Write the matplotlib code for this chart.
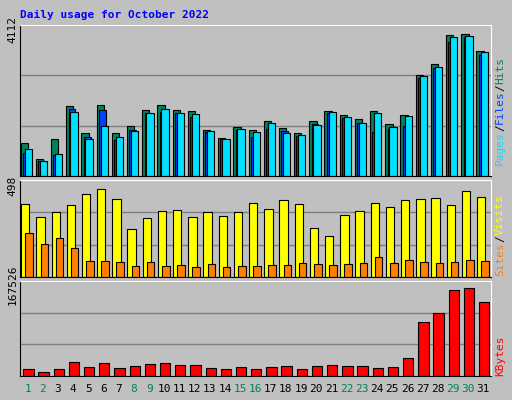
import numpy as np
import matplotlib.pyplot as plt

days = np.arange(1, 32)
weekend = [1, 2, 8, 9, 15, 16, 22, 23, 29, 30]

hits = [467, 489, 480, 468, 483, 470, 480, 463, 455, 442, 457, 452, 460, 440, 428, 446,
        409, 439, 448, 473, 449, 482, 458, 500, 438, 447, 439, 440, 420, 441, 437]
hits = [(469 - y) / 454 * 4112 for y in [367, 415, 355, 253, 337, 250, 337, 313, 265, 250, 265, 268, 325, 352, 316, 328,
                                         298, 319, 337, 298, 268, 280, 292, 268, 307, 280, 157, 121, 31, 28, 82]]
files = [(469 - y) / 454 * 4112 for y in [397, 421, 403, 262, 349, 265, 358, 328, 274, 270, 274, 286, 334, 355, 328, 349,
                                          322, 331, 346, 307, 274, 289, 304, 334, 322, 313, 166, 136, 55, 37, 94]]
pages = [(469 - y) / 454 * 4112 for y in [385, 424, 400, 271, 355, 313, 349, 331, 274, 262, 274, 277, 331, 355, 322, 334,
                                          304, 337, 343, 310, 271, 286, 304, 274, 316, 283, 160, 130, 37, 34, 85]]
visits = [(304 - y) / 287 * 498 for y in [76, 115, 100, 79, 43, 28, 58, 154, 118, 97, 94, 115, 100, 112, 100, 73,
                                          91, 64, 76, 151, 175, 109, 97, 73, 85, 64, 58, 55, 79, 34, 52]]
sites = [(304 - y) / 287 * 498 for y in [166, 199, 181, 214, 253, 253, 256, 268, 256, 268, 265, 274, 262, 274, 268, 268,
                                         265, 265, 259, 262, 265, 262, 259, 241, 259, 250, 256, 259, 256, 250, 253]]
kbytes = [(602 - y) / 285 * 167526 for y in [580, 589, 580, 559, 574, 562, 577, 571, 565, 562, 568, 568, 577, 580, 574, 580,
                                             574, 571, 580, 571, 568, 571, 571, 577, 574, 547, 433, 406, 334, 328, 370]]
max_hits, max_visits, max_kb = 4112, 498, 167526

W, H = 512, 400
bg = '#c0c0c0'
plt.rcParams['font.family'] = 'DejaVu Sans Mono'
fig = plt.figure(figsize=(W / 100, H / 100), dpi=100, facecolor=bg)

def panel(y0, y1):
    ax = fig.add_axes([20 / W, 1 - y1 / H, 471 / W, (y1 - y0) / H], facecolor=bg)
    ax.set_xlim(0.5, 31.5)
    ax.set_xticks([])
    for s in ax.spines.values():
        s.set_color('black')
    ax.spines['top'].set_color('white')
    ax.spines['right'].set_color('white')
    return ax

ec = dict(edgecolor='black', linewidth=0.8)

ax1 = panel(25, 176)
ax1.set_ylim(0, max_hits * 1.03)
for f in (1 / 3, 2 / 3):
    ax1.axhline(max_hits * 1.03 * f, color='#808080', lw=1, zorder=0)
ax1.bar(days - 0.22, hits, width=0.48, color='#00805c', **ec)
ax1.bar(days - 0.08, files, width=0.45, color='#0040ff', **ec)
ax1.bar(days + 0.05, pages, width=0.48, color='#00e0ff', **ec)
ax1.set_yticks([max_hits])
ax1.set_yticklabels([str(max_hits)], rotation=90, va='center', fontsize=8)

ax2 = panel(180, 277)
ax2.set_ylim(0, max_visits * 1.06)
for f in (1 / 3, 2 / 3):
    ax2.axhline(max_visits * 1.06 * f, color='#808080', lw=1, zorder=0)
ax2.bar(days - 0.15, visits, width=0.55, color='#ffff00', **ec)
ax2.bar(days + 0.1, sites, width=0.5, color='#ff8000', **ec)
ax2.set_yticks([max_visits])
ax2.set_yticklabels([str(max_visits)], rotation=90, va='center', fontsize=8)

ax3 = panel(281, 376)
ax3.set_ylim(0, max_kb * 1.04)
for f in (1 / 3, 2 / 3):
    ax3.axhline(max_kb * 1.04 * f, color='#808080', lw=1, zorder=0)
ax3.bar(days + 0.05, kbytes, width=0.68, color='#ff0000', **ec)
ax3.set_yticks([max_kb])
ax3.set_yticklabels([str(max_kb)], rotation=90, va='center', fontsize=8)
ax3.set_xticks(days)
ax3.set_xticklabels([str(d) for d in days], fontsize=8)
ax3.tick_params(axis='x', length=0, pad=6)
for lbl, d in zip(ax3.get_xticklabels(), days):
    lbl.set_color('#00805c' if d in weekend else 'black')
for ax in (ax1, ax2, ax3):
    ax.tick_params(axis='y', length=0, pad=2)

fig.text(20 / W, 1 - 15 / H, 'Daily usage for October 2022', color='#0000ff',
         fontsize=8, fontweight='bold', va='center')

def side(y, parts):
    # right-side rotated legend, drawn bottom to top
    t = None
    for txt, col in parts:
        if t is None:
            t = fig.text(500 / W, 1 - y / H, txt, color=col, rotation=90, fontsize=8,
                         ha='center', va='bottom')
        else:
            t = plt.annotate(txt, xycoords=t, xy=(0.5, 1), color=col, rotation=90,
                             fontsize=8, ha='center', va='bottom', annotation_clip=False)
side(165, [('Pages', '#00e0ff'), ('/', 'black'), ('Files', '#0040ff'), ('/', 'black'), ('Hits', '#00805c')])
side(276, [('Sites', '#ff8000'), ('/', 'black'), ('Visits', '#ffff00')])
side(376, [('KBytes', '#ff0000')])

fig.savefig('out.png', dpi=100, facecolor=bg)
